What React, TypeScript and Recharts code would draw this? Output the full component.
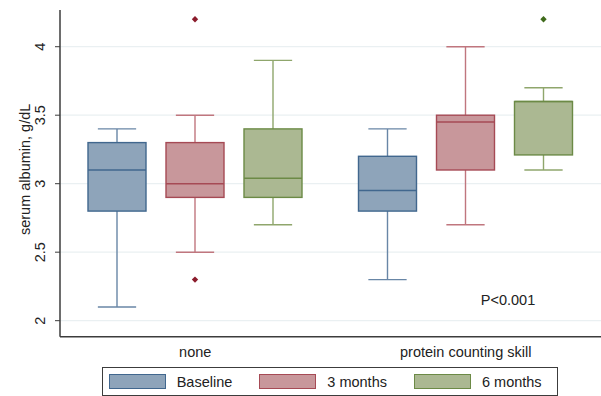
import React from 'react';
import { ComposedChart, Bar, XAxis, YAxis, CartesianGrid } from 'recharts';

// ---------------------------------------------------------------------------
// Data: five-number summaries [lower whisker, Q1, median, Q3, upper whisker]
// one entry per group
// ---------------------------------------------------------------------------

const groups = ['none', 'protein counting skill'];
const seriesNames = ['Baseline', '3 months', '6 months'];
const yTicks = [2, 2.5, 3, 3.5, 4];

const baselineStats = [
  [2.1, 2.8, 3.1, 3.3, 3.4],
  [2.3, 2.8, 2.95, 3.2, 3.4],
];
const threeMonthStats = [
  [2.5, 2.9, 3.0, 3.3, 3.5],
  [2.7, 3.1, 3.45, 3.5, 4.0],
];
const sixMonthStats = [
  [2.7, 2.9, 3.04, 3.4, 3.9],
  [3.1, 3.21, 3.6, 3.6, 3.7],
];

const baselineOutliers = [[], []];
const threeMonthOutliers = [[4.2, 2.3], []];
const sixMonthOutliers = [[], [4.2]];

// ---------------------------------------------------------------------------
// Styling
// ---------------------------------------------------------------------------

const FILLS = ['#8ea4ba', '#c8979b', '#abb892'];
const STROKES = ['#41678e', '#a64a55', '#6c8a46'];
const WHISKERS = ['#6886a6', '#c0767e', '#8fa66c'];
const DOTS = ['#1f4e79', '#8b1c2c', '#3f6b1c'];
const FONT = '"Liberation Sans", Arial, sans-serif';
const TEXT = '#222';
const AXIS = '#3c3c3c';

const allStats = [baselineStats, threeMonthStats, sixMonthStats];
const allOutliers = [baselineOutliers, threeMonthOutliers, sixMonthOutliers];

const chartData = groups.map((g, gi) => {
  const row: any = { group: g, stats: [], outliers: [] };
  allStats.forEach((s, si) => {
    row[`box${si}`] = [s[gi][1], s[gi][3]];
    row.stats.push(s[gi]);
    row.outliers.push(allOutliers[si][gi]);
  });
  return row;
});

// Draws a whole box (box, median, whiskers, caps, outliers) from the bar rect,
// reusing the bar's Q1..Q3 pixel span as the linear scale
function BoxShape(props: any) {
  const { x, y, width, height, payload, si } = props;
  const [lo, q1, med, q3, hi] = payload.stats[si];
  const outs: number[] = payload.outliers[si];
  const top = Math.min(y, y + height);
  const h = Math.abs(height);
  const k = h / (q3 - q1);
  const py = (v: number) => top + (q3 - v) * k;
  const cx = x + width / 2;
  const cap = width * 0.33;

  return (
    <g>
      <line x1={cx} x2={cx} y1={py(hi)} y2={py(q3)} stroke={WHISKERS[si]} strokeWidth={1.4} />
      <line x1={cx} x2={cx} y1={py(q1)} y2={py(lo)} stroke={WHISKERS[si]} strokeWidth={1.4} />
      <line x1={cx - cap} x2={cx + cap} y1={py(hi)} y2={py(hi)} stroke={WHISKERS[si]} strokeWidth={1.4} />
      <line x1={cx - cap} x2={cx + cap} y1={py(lo)} y2={py(lo)} stroke={WHISKERS[si]} strokeWidth={1.4} />
      <rect x={x} y={top} width={width} height={h} fill={FILLS[si]} stroke={STROKES[si]} strokeWidth={1.4} />
      <line x1={x} x2={x + width} y1={py(med)} y2={py(med)} stroke={STROKES[si]} strokeWidth={1.4} />
      {outs.map((o, i) => (
        <path
          key={i}
          d={`M${cx},${py(o) - 3.2} L${cx + 3.2},${py(o)} L${cx},${py(o) + 3.2} L${cx - 3.2},${py(o)} Z`}
          fill={DOTS[si]}
        />
      ))}
    </g>
  );
}

const YTick = (props: any) => {
  const { x, y, payload } = props;
  const tx = x - 15;
  return (
    <text
      x={tx}
      y={y}
      transform={`rotate(-90, ${tx}, ${y})`}
      textAnchor="middle"
      dominantBaseline="central"
      fontFamily={FONT}
      fontSize={14.5}
      fill={TEXT}
    >
      {payload.value}
    </text>
  );
};

const XTick = (props: any) => {
  const { x, y, payload } = props;
  return (
    <text x={x} y={y + 20} textAnchor="middle" fontFamily={FONT} fontSize={14.5} fill={TEXT}>
      {payload.value}
    </text>
  );
};

const YLabel = (props: any) => {
  const { viewBox } = props;
  const lx = viewBox.x + 25;
  const ly = viewBox.y + viewBox.height / 2 - 4;
  return (
    <text
      x={lx}
      y={ly}
      transform={`rotate(-90, ${lx}, ${ly})`}
      textAnchor="middle"
      dominantBaseline="central"
      fontFamily={FONT}
      fontSize={14.5}
      fill={TEXT}
    >
      serum albumin, g/dL
    </text>
  );
};

export default function App() {
  return (
    <div style={{ position: 'absolute', left: 0, top: 0, width: 601, height: 396, background: '#fff', overflow: 'hidden' }}>
      <ComposedChart
        width={601}
        height={396}
        data={chartData}
        margin={{ top: 10, right: 0, left: 0, bottom: 29.3 }}
        barGap={20}
      >
        <CartesianGrid vertical={false} horizontalValues={yTicks} stroke="#eaf0f2" strokeWidth={1.2} />
        <XAxis
          dataKey="group"
          type="category"
          height={30}
          tickLine={false}
          tickSize={0}
          tickMargin={0}
          tick={<XTick />}
          axisLine={{ stroke: AXIS, strokeWidth: 1.5 }}
        />
        <YAxis
          type="number"
          width={60}
          domain={[1.883, 4.268]}
          allowDataOverflow
          ticks={yTicks}
          tickSize={5}
          tickMargin={0}
          tick={<YTick />}
          tickLine={{ stroke: AXIS }}
          axisLine={{ stroke: AXIS, strokeWidth: 1.5 }}
          label={<YLabel />}
        />
        {seriesNames.map((name, si) => (
          <Bar
            key={name}
            name={name}
            dataKey={`box${si}`}
            barSize={58}
            fill={FILLS[si]}
            isAnimationActive={false}
            shape={(p: any) => <BoxShape {...p} si={si} />}
          />
        ))}
      </ComposedChart>

      <svg width={601} height={396} style={{ position: 'absolute', left: 0, top: 0, pointerEvents: 'none' }}>
        <text x={508} y={305} textAnchor="middle" fontFamily={FONT} fontSize={14.5} fill={TEXT}>
          P&lt;0.001
        </text>
      </svg>

      <div
        style={{
          position: 'absolute',
          left: 101.7,
          top: 367,
          width: 456.6,
          height: 29,
          boxSizing: 'border-box',
          border: `1.3px solid ${AXIS}`,
          display: 'flex',
          alignItems: 'center',
          paddingLeft: 6,
          fontFamily: FONT,
          fontSize: 14.5,
          color: TEXT,
          whiteSpace: 'nowrap',
        }}
      >
        {seriesNames.map((name, si) => (
          <div key={name} style={{ display: 'flex', alignItems: 'center', flexShrink: 0, marginRight: 27 }}>
            <div
              style={{
                width: 57,
                height: 15.5,
                flexShrink: 0,
                boxSizing: 'border-box',
                background: FILLS[si],
                border: `1.4px solid ${STROKES[si]}`,
                marginRight: 11,
              }}
            />
            <span>{name}</span>
          </div>
        ))}
      </div>
    </div>
  );
}
